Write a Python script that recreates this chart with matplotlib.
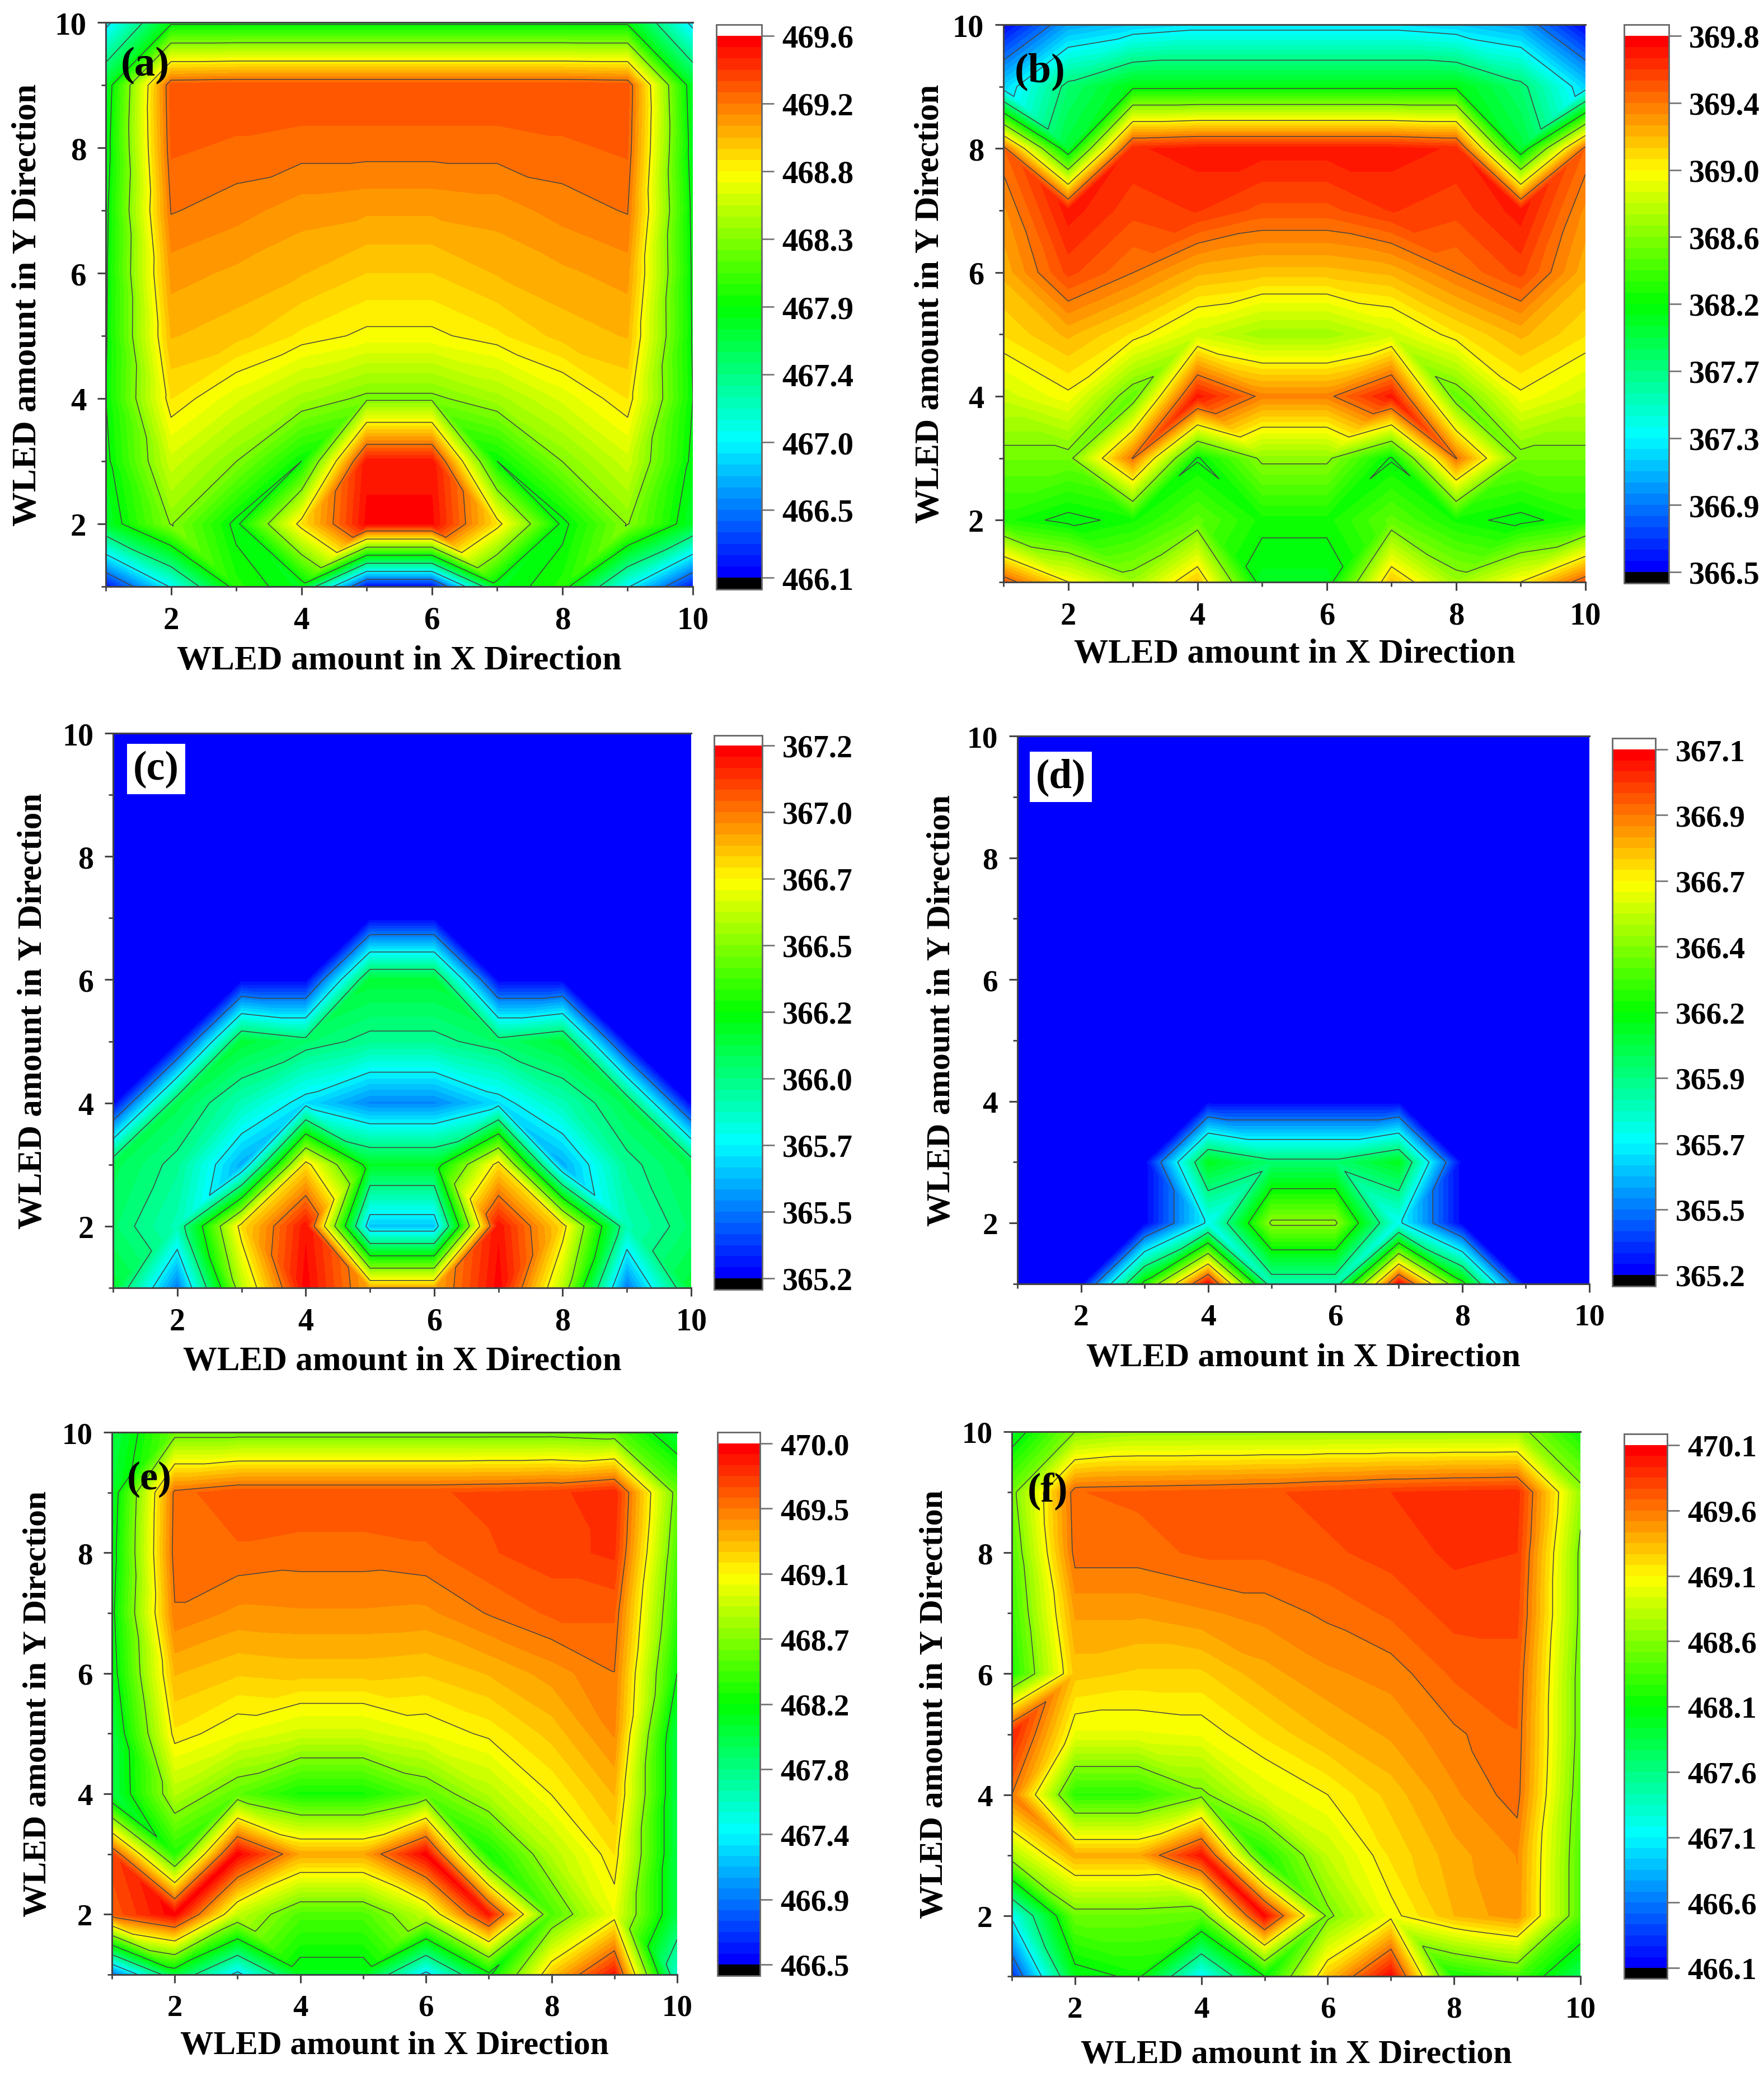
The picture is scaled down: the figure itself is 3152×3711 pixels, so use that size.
"""Six WLED contour panels with Origin-style rainbow colorbars."""
import numpy as np
import matplotlib
matplotlib.use("Agg")
import matplotlib.pyplot as plt
import matplotlib.tri as mtri
from matplotlib.colors import LinearSegmentedColormap

plt.rcParams.update({"font.family": "Liberation Serif", "font.weight": "bold"})

W, H = 3152, 3712

x_grid = [1, 2, 3, 4, 5, 6, 7, 8, 9, 10]
y_desc = [10, 9, 8, 7, 6, 5, 4, 3, 2, 1]

# every panel: one list per x column, values from y=10 down to y=1
a_cols = [
    [466.9, 467.7, 467.75, 467.8, 467.82, 467.83, 467.85, 467.8, 467.7, 466.2],
    [467.8, 469.28, 469.25, 469.17, 469.05, 468.95, 468.8, 468.55, 468.3, 467.0],
    [467.8, 469.3, 469.22, 469.12, 469.0, 468.9, 468.6, 468.29, 467.8, 467.95],
    [467.8, 469.3, 469.2, 469.05, 468.95, 468.78, 468.4, 467.85, 468.8, 467.75],
    [467.8, 469.3, 469.2, 469.03, 468.87, 468.7, 468.25, 469.5, 469.55, 466.15],
    [467.8, 469.3, 469.2, 469.03, 468.87, 468.7, 468.25, 469.5, 469.55, 466.15],
    [467.8, 469.3, 469.2, 469.05, 468.95, 468.78, 468.4, 467.85, 468.8, 467.75],
    [467.8, 469.3, 469.22, 469.12, 469.0, 468.9, 468.6, 468.29, 467.8, 467.95],
    [467.8, 469.28, 469.25, 469.17, 469.05, 468.95, 468.8, 468.55, 468.3, 467.0],
    [466.9, 467.7, 467.75, 467.8, 467.82, 467.83, 467.85, 467.8, 467.7, 466.2],
]
b_cols = [
    [366.52, 367.2, 369.45, 369.3, 369.2, 369.05, 368.8, 368.5, 368.24, 369.5],
    [367.05, 367.8, 367.98, 369.7, 369.55, 369.2, 368.95, 368.5, 368.1, 368.98],
    [367.18, 368.1, 369.65, 369.55, 369.39, 369.03, 368.45, 369.4, 368.2, 368.65],
    [367.25, 368.1, 369.7, 369.6, 369.2, 368.8, 369.7, 368.13, 368.45, 369.15],
    [367.25, 368.1, 369.7, 369.5, 369.15, 368.65, 369.35, 368.6, 368.19, 368.05],
    [367.25, 368.1, 369.7, 369.5, 369.15, 368.65, 369.35, 368.6, 368.19, 368.05],
    [367.25, 368.1, 369.7, 369.6, 369.2, 368.8, 369.7, 368.13, 368.45, 369.15],
    [367.18, 368.1, 369.65, 369.55, 369.39, 369.03, 368.45, 369.4, 368.2, 368.65],
    [367.05, 367.8, 367.98, 369.7, 369.55, 369.2, 368.95, 368.5, 368.1, 368.98],
    [366.52, 367.2, 369.45, 369.3, 369.2, 369.05, 368.8, 368.5, 368.24, 369.5],
]
c_cols = [
    [365.21, 365.21, 365.21, 365.21, 365.21, 365.21, 365.21, 366.05, 366.0, 366.1],
    [365.21, 365.21, 365.21, 365.21, 365.21, 365.21, 366.05, 365.92, 365.85, 365.45],
    [365.21, 365.21, 365.21, 365.21, 365.21, 366.1, 365.85, 365.55, 366.75, 366.55],
    [365.21, 365.21, 365.21, 365.21, 365.21, 366.0, 365.65, 366.75, 367.15, 367.18],
    [365.21, 365.21, 365.21, 365.21, 366.1, 365.92, 365.48, 366.13, 365.6, 366.85],
    [365.21, 365.21, 365.21, 365.21, 366.1, 365.92, 365.48, 366.13, 365.6, 366.85],
    [365.21, 365.21, 365.21, 365.21, 365.21, 366.0, 365.65, 366.75, 367.15, 367.18],
    [365.21, 365.21, 365.21, 365.21, 365.21, 366.1, 365.85, 365.55, 366.75, 366.55],
    [365.21, 365.21, 365.21, 365.21, 365.21, 365.21, 366.05, 365.92, 365.85, 365.45],
    [365.21, 365.21, 365.21, 365.21, 365.21, 365.21, 365.21, 366.05, 366.0, 366.1],
]
d_cols = [
    [365.21, 365.21, 365.21, 365.21, 365.21, 365.21, 365.21, 365.21, 365.21, 365.21],
    [365.21, 365.21, 365.21, 365.21, 365.21, 365.21, 365.21, 365.21, 365.21, 365.21],
    [365.21, 365.21, 365.21, 365.21, 365.21, 365.21, 365.21, 365.21, 365.21, 366.2],
    [365.21, 365.21, 365.21, 365.21, 365.21, 365.21, 365.21, 366.1, 365.7, 367.08],
    [365.21, 365.21, 365.21, 365.21, 365.21, 365.21, 365.21, 365.95, 366.41, 365.82],
    [365.21, 365.21, 365.21, 365.21, 365.21, 365.21, 365.21, 365.95, 366.41, 365.82],
    [365.21, 365.21, 365.21, 365.21, 365.21, 365.21, 365.21, 366.1, 365.7, 367.08],
    [365.21, 365.21, 365.21, 365.21, 365.21, 365.21, 365.21, 365.21, 365.21, 366.2],
    [365.21, 365.21, 365.21, 365.21, 365.21, 365.21, 365.21, 365.21, 365.21, 365.21],
    [365.21, 365.21, 365.21, 365.21, 365.21, 365.21, 365.21, 365.21, 365.21, 365.21],
]
e_cols = [
    [468.0, 468.1, 468.15, 468.2, 468.15, 468.02, 468.0, 469.75, 469.65, 466.9],
    [468.6, 469.6, 469.62, 469.55, 469.35, 469.18, 468.85, 468.35, 469.98, 468.05],
    [468.6, 469.7, 469.62, 469.47, 469.28, 469.05, 468.55, 469.98, 468.9, 467.3],
    [468.6, 469.7, 469.6, 469.48, 469.3, 468.95, 468.3, 469.4, 468.5, 468.15],
    [468.6, 469.7, 469.6, 469.48, 469.3, 468.95, 468.3, 469.4, 468.5, 468.15],
    [468.6, 469.7, 469.62, 469.47, 469.28, 469.05, 468.55, 469.98, 468.9, 467.3],
    [468.6, 469.72, 469.7, 469.57, 469.35, 469.15, 468.85, 468.3, 469.9, 468.2],
    [468.6, 469.75, 469.75, 469.65, 469.45, 469.3, 469.13, 468.85, 468.5, 469.3],
    [468.55, 469.85, 469.8, 469.65, 469.56, 469.5, 469.35, 469.2, 469.05, 469.9],
    [468.05, 468.6, 468.5, 468.4, 468.25, 468.0, 468.0, 468.0, 468.0, 467.55],
]
f_cols = [
    [467.95, 468.52, 468.4, 468.3, 468.2, 469.95, 469.6, 468.75, 467.15, 466.3],
    [468.6, 469.68, 469.65, 469.45, 469.3, 469.0, 468.25, 469.4, 468.5, 468.0],
    [468.7, 469.7, 469.65, 469.45, 469.25, 469.0, 468.25, 469.4, 468.5, 468.15],
    [468.7, 469.72, 469.7, 469.5, 469.25, 469.03, 468.55, 470.0, 468.45, 467.1],
    [468.7, 469.75, 469.7, 469.55, 469.4, 469.2, 468.95, 468.2, 470.05, 468.1],
    [468.7, 469.8, 469.75, 469.62, 469.5, 469.35, 469.1, 468.85, 468.55, 469.3],
    [468.7, 469.85, 469.8, 469.7, 469.55, 469.45, 469.3, 469.2, 469.05, 470.05],
    [468.7, 469.88, 469.87, 469.8, 469.7, 469.58, 469.5, 469.4, 469.35, 468.15],
    [468.7, 469.9, 469.85, 469.8, 469.72, 469.68, 469.65, 469.52, 469.5, 468.35],
    [468.15, 468.68, 468.55, 468.55, 468.5, 468.5, 468.45, 468.4, 468.4, 467.75],
]

a_ticks = ["469.6", "469.2", "468.8", "468.3", "467.9", "467.4", "467.0", "466.5", "466.1"]
b_ticks = ["369.8", "369.4", "369.0", "368.6", "368.2", "367.7", "367.3", "366.9", "366.5"]
c_ticks = ["367.2", "367.0", "366.7", "366.5", "366.2", "366.0", "365.7", "365.5", "365.2"]
d_ticks = ["367.1", "366.9", "366.7", "366.4", "366.2", "365.9", "365.7", "365.5", "365.2"]
e_ticks = ["470.0", "469.5", "469.1", "468.7", "468.2", "467.8", "467.4", "466.9", "466.5"]
f_ticks = ["470.1", "469.6", "469.1", "468.6", "468.1", "467.6", "467.1", "466.6", "466.1"]

# pixel layout: axes (x0, x1, ytop, ybot), bar (x0, x1, ytop, ybot, tick_top, tick_bot),
# ylabel x, xlabel y, panel-letter position in data coords, boxed letter?
panels = [
    ("(a)", a_cols, a_ticks, 469.6, 466.1, (189, 1238, 41, 1049), (1280, 1361, 45, 1054, 65, 1033), 49, 1181, (1.6, 9.32), False),
    ("(b)", b_cols, b_ticks, 369.8, 366.5, (1793, 2833, 45, 1041), (2902, 2982, 45, 1043, 65, 1023), 1662, 1169, (1.56, 9.25), False),
    ("(c)", c_cols, c_ticks, 367.2, 365.2, (202, 1235, 1311, 2302), (1276, 1362, 1315, 2305, 1333, 2285), 59, 2433, (1.67, 9.42), True),
    ("(d)", d_cols, d_ticks, 367.1, 365.2, (1818, 2840, 1316, 2295), (2881, 2958, 1320, 2299, 1340, 2279), 1683, 2427, (1.68, 9.33), True),
    ("(e)", e_cols, e_ticks, 470.0, 466.5, (200, 1210, 2560, 3529), (1282, 1358, 2560, 3531, 2580, 3511), 68, 3656, (1.6, 9.23), False),
    ("(f)", f_cols, f_ticks, 470.1, 466.1, (1808, 2824, 2559, 3532), (2902, 2979, 2563, 3536, 2583, 3517), 1670, 3672, (1.57, 9.03), False),
]

# cells (lower-left x, y) where the other diagonal is the one seen in the picture
flipped_cells = {"(f)": [(7, 1)]}

XLABEL = "WLED amount in X Direction"
YLABEL = "WLED amount in Y Direction"
LINE = "#444444"
FS_TICK = 41
FS_LABEL = 44.5

rainbow = LinearSegmentedColormap.from_list(
    "origin_rainbow", ["#0000ff", "#00ffff", "#00ff00", "#ffff00", "#ff0000"], N=48)
rainbow.set_under("black")
rainbow.set_over("white")


def px_rect(x0, x1, ytop, ybot):
    return [x0 / W, 1 - ybot / H, (x1 - x0) / W, (ybot - ytop) / H]


def grid_triangulation(Z, flipped=()):
    # split each cell along the diagonal whose two ends differ least, keeps ridges and valleys joined
    n = len(x_grid)
    X, Y = np.meshgrid(x_grid, y_desc[::-1])
    z = Z.ravel()
    tris = []
    for j in range(n - 1):
        for i in range(n - 1):
            p00, p10 = j * n + i, j * n + i + 1
            p01, p11 = (j + 1) * n + i, (j + 1) * n + i + 1
            main_diag = abs(z[p00] - z[p11]) <= abs(z[p10] - z[p01])
            if (x_grid[i], j + 1) in flipped:
                main_diag = not main_diag
            if main_diag:
                tris += [[p00, p10, p11], [p00, p11, p01]]
            else:
                tris += [[p00, p10, p01], [p10, p11, p01]]
    return mtri.Triangulation(X.ravel(), Y.ravel(), tris)


def draw_panel(fig, name, cols, tick_labels, vmax, vmin, box, bar, ylab_x, xlab_y, letter, boxed):
    # each panel was pasted at a slightly different scale, text follows the axes width
    scale = (box[1] - box[0]) / 1049
    ax = fig.add_axes(px_rect(*box))
    Z = np.array(cols).T[::-1]
    tri = grid_triangulation(Z, flipped_cells.get(name, ()))
    fine = np.linspace(vmin, vmax, 49)
    major = np.linspace(vmin, vmax, 9)
    cf = ax.tricontourf(tri, Z.ravel(), levels=fine, cmap=rainbow, extend="both")
    ax.tricontour(tri, Z.ravel(), levels=major, colors=LINE, linewidths=1.1)

    ax.set_xlim(1, 10); ax.set_ylim(1, 10)
    ax.set_xticks([2, 4, 6, 8, 10]); ax.set_yticks([2, 4, 6, 8, 10])
    ax.set_xticks([1, 3, 5, 7, 9], minor=True); ax.set_yticks([1, 3, 5, 7, 9], minor=True)
    ax.tick_params(which="major", length=11, width=2.2, color=LINE, labelsize=FS_TICK * scale, pad=14)
    ax.tick_params(which="minor", length=6, width=2, color=LINE)
    for s in ["top", "left", "bottom"]:
        ax.spines[s].set_linewidth(2.2); ax.spines[s].set_color(LINE)
    ax.spines["right"].set_visible(False)

    bbox = None
    if boxed:
        bbox = dict(facecolor="white", edgecolor="none", boxstyle="square,pad=0.15")
    ax.text(letter[0], letter[1], name, fontsize=54 * scale, ha="center", va="center", bbox=bbox, zorder=6)

    fig.text((box[0] + box[1]) / 2 / W, 1 - xlab_y / H, XLABEL, fontsize=FS_LABEL * scale,
             ha="center", va="center")
    fig.text(ylab_x / W, 1 - (box[2] + box[3]) / 2 / H, YLABEL, fontsize=FS_LABEL * scale,
             rotation=90, ha="center", va="center")

    cx0, cx1, cy0, cy1, t_top, t_bot = bar
    cax = fig.add_axes(px_rect(cx0, cx1, cy0, cy1))
    main = t_bot - t_top
    cb = fig.colorbar(cf, cax=cax, extend="both", extendrect=True,
                      extendfrac=((cy1 - t_bot) / main, (t_top - cy0) / main), drawedges=False)
    cb.set_ticks(major[::-1], labels=tick_labels)
    cb.minorticks_off()
    cb.outline.set_edgecolor("#666666"); cb.outline.set_linewidth(2)
    cb.ax.tick_params(length=16, width=2, color="#777777", labelsize=FS_TICK * scale, pad=10)


fig = plt.figure(figsize=(W / 100, H / 100), dpi=100, facecolor="white")
for p in panels:
    draw_panel(fig, *p)
fig.savefig("out.png", dpi=100)
